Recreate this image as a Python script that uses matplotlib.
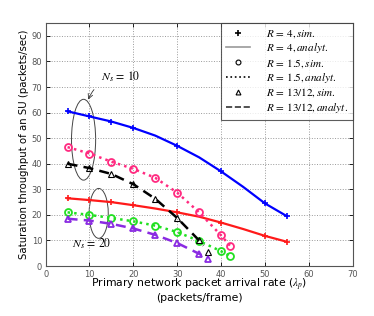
import matplotlib
matplotlib.use("Agg")
import matplotlib.pyplot as plt
from matplotlib.lines import Line2D
from matplotlib.patches import Ellipse

plt.rcParams['mathtext.fontset'] = 'stix'

# ---- data ----
x_r4 = [5, 10, 15, 20, 25, 30, 35, 40, 45, 50, 55]
r4_ns10_an = [60.5, 58.5, 56.5, 54, 51, 47, 42.5, 37, 31, 24.5, 19.5]
r4_ns20_an = [26.5, 25.8, 25, 23.8, 22.5, 21, 19.3, 17, 14.5, 11.8, 9.5]
x_r4_sim = [5, 10, 15, 20, 30, 40, 50, 55]
r4_ns10_sim = [60.5, 58.5, 56.5, 54, 47, 37, 24.5, 19.5]
r4_ns20_sim = [26.5, 25.8, 25, 23.8, 21, 17, 11.8, 9.5]

x_r15 = [5, 10, 15, 20, 25, 30, 35, 40, 42]
r15_ns10 = [46.5, 44, 40.8, 38, 34.5, 28.7, 21, 12, 8]
r15_ns20 = [21, 20, 18.8, 17.5, 15.8, 13.3, 9.8, 5.8, 4]

x_r13_an = [5, 10, 15, 20, 25, 30, 35, 36]
r13_ns10_an = [40, 38.3, 36, 32, 26.3, 18.8, 10, 8]
r13_ns20_an = [18.5, 17.8, 16.5, 14.7, 12.2, 9, 4.8, 3.8]
x_r13_sim = [5, 10, 15, 20, 25, 30, 35, 37]
r13_ns10_sim = [40, 38.3, 36, 32, 26.3, 18.8, 10, 5.5]
r13_ns20_sim = [18.5, 17.8, 16.5, 14.7, 12.2, 9, 4.8, 2.8]

legend_labels = [r'$R\,=\,4, sim.$', r'$R\,=\,4, analyt.$', r'$R\,=\,1.5, sim.$',
                 r'$R\,=\,1.5, analyt.$', r'$R\,=\,13/12, sim.$', r'$R\,=\,13/12, analyt.$']

blue = '#0000ff'
red = '#ff1a1a'
pink = '#ff2a80'
green = '#22e022'
purple = '#8a2be2'

fig = plt.figure(figsize=(3.74, 3.16), dpi=100)
ax = fig.add_axes([0.122, 0.158, 0.821, 0.769])

# R = 4
ax.plot(x_r4, r4_ns10_an, '-', color=blue, lw=1.6)
ax.plot(x_r4_sim, r4_ns10_sim, '+', color=blue, ms=4, mew=1.2)
ax.plot(x_r4, r4_ns20_an, '-', color=red, lw=1.6)
ax.plot(x_r4_sim, r4_ns20_sim, '+', color=red, ms=4, mew=1.2)
# R = 1.5
ax.plot(x_r15, r15_ns10, ':', color=pink, lw=1.8)
ax.plot(x_r15, r15_ns10, 'o', color=pink, ms=5, mfc='none', mew=1.3)
ax.plot(x_r15, r15_ns20, ':', color=green, lw=1.8)
ax.plot(x_r15, r15_ns20, 'o', color=green, ms=5, mfc='none', mew=1.3)
# R = 13/12
ax.plot(x_r13_an, r13_ns10_an, '--', color='black', lw=1.8, dashes=(4, 2.5))
ax.plot(x_r13_sim, r13_ns10_sim, '^', color='black', ms=5, mfc='none', mew=0.8)
ax.plot(x_r13_an, r13_ns20_an, '--', color=purple, lw=1.8, dashes=(4, 2.5))
ax.plot(x_r13_sim, r13_ns20_sim, '^', color=purple, ms=5, mfc='none', mew=1.3)

ax.set_xlim(0, 70)
ax.set_ylim(0, 95)
ax.set_xticks(range(0, 71, 10))
ax.set_yticks(range(0, 91, 10))
ax.grid(True, linestyle=':', color='#999999', lw=0.7)
ax.tick_params(direction='in', labelsize=6, labelcolor='#555555', length=3,
               top=True, right=True, width=0.6, pad=2.5)
for s in ax.spines.values():
    s.set_color('#555555')
    s.set_linewidth(0.8)

ax.set_ylabel('Saturation throughput of an SU (packets/sec)', fontsize=7.3, labelpad=2)
ax.set_xlabel('Primary network packet arrival rate ($\\lambda_p$)\n(packets/frame)',
              fontsize=7.8, labelpad=-1, linespacing=1.0)

# ellipses
ax.add_patch(Ellipse((8.65, 49.4), 5.5, 31.6, fill=False, color='#444444', lw=0.7))
ax.add_patch(Ellipse((12.1, 20.6), 4.35, 19.5, fill=False, color='#444444', lw=0.7))
ax.annotate(r'$N_s\,=\,10$', xy=(9.7, 65.1), xytext=(17, 74.2), fontsize=8.5,
            ha='center', va='center',
            arrowprops=dict(arrowstyle='->', color='#333333', lw=0.6,
                            connectionstyle='arc3,rad=0.3', shrinkA=4, shrinkB=0))
ax.text(10.5, 8.6, r'$N_s\,=\,20$', fontsize=8.5, ha='center', va='center')

handles = [
    Line2D([], [], ls='none', marker='+', color='black', ms=4, mew=1.2),
    Line2D([], [], ls='-', color='#999999', lw=1.2),
    Line2D([], [], ls='none', marker='o', color='black', ms=3.5, mfc='none', mew=0.8),
    Line2D([], [], ls=':', color='black', lw=1.2),
    Line2D([], [], ls='none', marker='^', color='black', ms=3.5, mfc='none', mew=0.8),
    Line2D([], [], ls='--', color='#333333', lw=1.2),
]
leg = ax.legend(handles, legend_labels, loc='upper right', fontsize=8,
                frameon=True, fancybox=False, edgecolor='#333333',
                borderaxespad=0, handlelength=2.2, labelspacing=0.12,
                borderpad=0.45, handletextpad=1.4)
leg.get_frame().set_linewidth(0.8)

fig.savefig('out.png', dpi=100)
